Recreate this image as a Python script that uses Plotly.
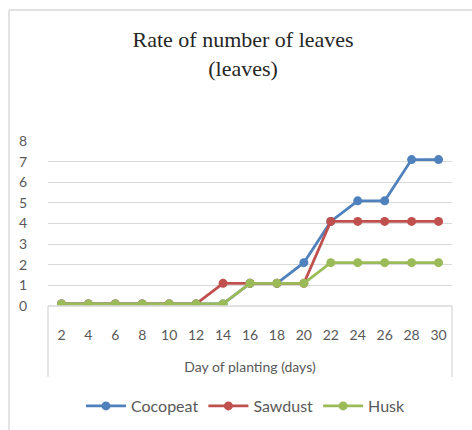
import plotly.graph_objects as go

# Leaf counts per planting medium, recorded every two days
days = ["2", "4", "6", "8", "10", "12", "14", "16", "18", "20", "22", "24", "26", "28", "30"]
cocopeat = [0.1, 0.1, 0.1, 0.1, 0.1, 0.1, 0.1, 1.1, 1.1, 2.1, 4.1, 5.1, 5.1, 7.1, 7.1]
sawdust = [0.1, 0.1, 0.1, 0.1, 0.1, 0.1, 1.1, 1.1, 1.1, 1.1, 4.1, 4.1, 4.1, 4.1, 4.1]
husk = [0.1, 0.1, 0.1, 0.1, 0.1, 0.1, 0.1, 1.1, 1.1, 1.1, 2.1, 2.1, 2.1, 2.1, 2.1]
y_ticks = [0, 1, 2, 3, 4, 5, 6, 7, 8]

series = [
    ("Cocopeat", cocopeat, "#4F81BD"),
    ("Sawdust", sawdust, "#C0504D"),
    ("Husk", husk, "#9BBB59"),
]

fig = go.Figure()
for name, vals, color in series:
    fig.add_trace(go.Scatter(
        x=days, y=vals, name=name, mode="lines+markers",
        line=dict(color=color, width=2.75),
        marker=dict(color=color, size=9),
    ))

grid = "#D9D9D9"
label_font = dict(family="Lato", size=14, color="#595959")
legend_font = dict(family="Lato", size=16, color="#595959")

fig.update_layout(
    width=472, height=430,
    margin=dict(l=48, r=20, t=141, b=124, autoexpand=False),
    paper_bgcolor="white", plot_bgcolor="white",
    title=dict(
        text="Rate of number of leaves<br>(leaves)",
        font=dict(family="Liberation Serif", size=22, color="#262626"),
        x=0.515, xanchor="center", y=1 - 47 / 430, yanchor="top",
    ),
    showlegend=True,
    legend=dict(
        orientation="h", x=0.49, xanchor="center", y=-0.606, yanchor="middle",
        font=legend_font, itemwidth=40,
    ),
    xaxis=dict(
        type="category", range=[-0.5, 14.5], showgrid=False, zeroline=False,
        showline=False, ticks="outside", ticklen=0, ticklabelstandoff=16,
        tickfont=label_font, automargin=False,
        title=dict(text="Day of planting (days)", font=label_font, standoff=20),
    ),
    yaxis=dict(
        range=[0, 8], tickvals=y_ticks, showgrid=True, gridcolor=grid, gridwidth=1.3,
        zeroline=False, showline=False, ticks="outside", ticklen=0,
        ticklabelstandoff=17, tickfont=label_font, automargin=False,
    ),
    shapes=[
        # category axis bracket
        dict(type="line", xref="paper", yref="paper", x0=0, x1=1, y0=0, y1=0,
             line=dict(color=grid, width=1.3)),
        dict(type="line", xref="paper", yref="paper", x0=0, x1=0, y0=0, y1=-0.43,
             line=dict(color=grid, width=1.3)),
        dict(type="line", xref="paper", yref="paper", x0=1, x1=1, y0=0, y1=-0.43,
             line=dict(color=grid, width=1.3)),
        # chart area border
        dict(type="line", xref="paper", yref="paper", x0=-0.0965, x1=1.2, y0=1.794, y1=1.794,
             line=dict(color=grid, width=1.5)),
        dict(type="line", xref="paper", yref="paper", x0=-0.0965, x1=-0.0965, y0=1.794, y1=-1.0,
             line=dict(color=grid, width=1.5)),
    ],
)

fig.write_html("out.html")
